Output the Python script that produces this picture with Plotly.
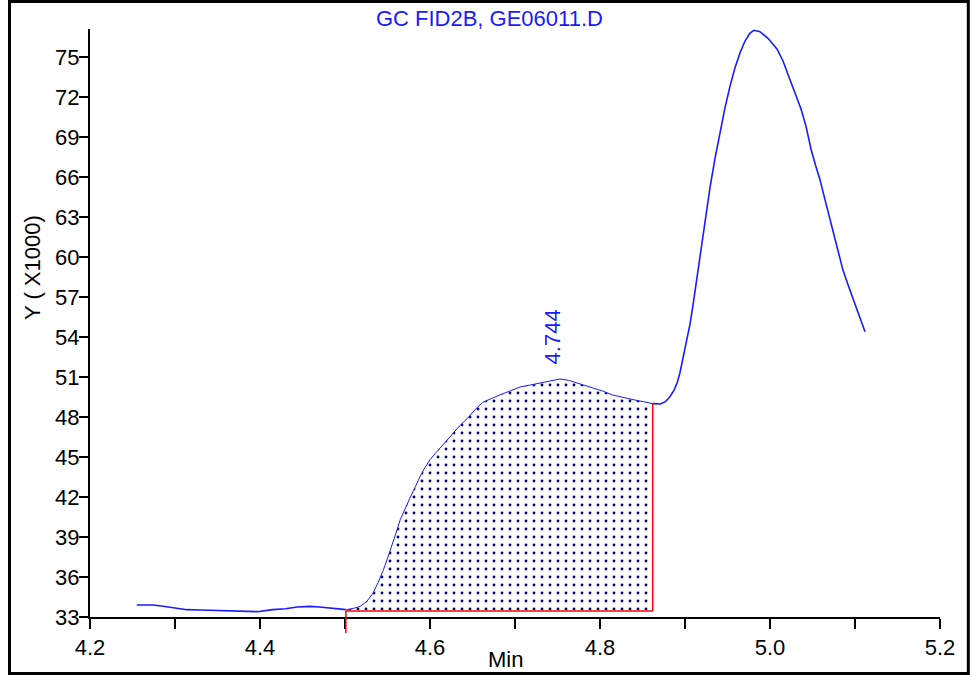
import numpy as np
import plotly.graph_objects as go

# ---- data ----
time_min = [4.255, 4.274, 4.286, 4.300, 4.314, 4.330, 4.345, 4.370, 4.385, 4.397,
            4.415, 4.430, 4.444, 4.459, 4.470, 4.482, 4.492, 4.502, 4.510, 4.518,
            4.526, 4.533, 4.539, 4.545, 4.550, 4.555, 4.560, 4.565, 4.571, 4.577,
            4.583, 4.588, 4.594, 4.600, 4.606, 4.612, 4.620, 4.627, 4.635, 4.644,
            4.653, 4.662, 4.672, 4.682, 4.694, 4.706, 4.718, 4.729, 4.741, 4.753,
            4.763, 4.773, 4.782, 4.792, 4.803, 4.815, 4.827, 4.839, 4.851, 4.862,
            4.871, 4.877, 4.882, 4.887, 4.891, 4.894, 4.898, 4.902, 4.906, 4.909,
            4.912, 4.9176, 4.9235, 4.9294, 4.9353, 4.9412, 4.9471, 4.9529, 4.9588, 4.9647,
            4.9706, 4.9765, 4.9812, 4.9882, 4.9976, 5.0082, 5.0153, 5.0235, 5.0294, 5.0365,
            5.0424, 5.0482, 5.0535, 5.0588, 5.0647, 5.0729, 5.0788, 5.0859, 5.0941, 5.1024,
            5.1118]
signal_k = [33.90, 33.90, 33.80, 33.65, 33.55, 33.52, 33.50, 33.48, 33.45, 33.40,
            33.55, 33.62, 33.75, 33.80, 33.75, 33.67, 33.60, 33.55, 33.65, 33.80,
            34.20, 34.80, 35.60, 36.50, 37.40, 38.30, 39.30, 40.30, 41.20, 42.00,
            42.80, 43.50, 44.20, 44.80, 45.25, 45.70, 46.25, 46.80, 47.35, 47.90,
            48.55, 49.10, 49.40, 49.65, 49.95, 50.25, 50.40, 50.55, 50.70, 50.85,
            50.75, 50.55, 50.40, 50.20, 49.95, 49.65, 49.45, 49.30, 49.15, 49.00,
            48.98, 49.15, 49.50, 50.00, 50.60, 51.30, 52.50, 53.70, 55.00, 56.20,
            57.50, 60.30, 62.80, 65.20, 67.40, 69.40, 71.20, 72.80, 74.20, 75.30,
            76.20, 76.80, 77.00, 76.90, 76.40, 75.60, 74.70, 73.30, 72.30, 71.10,
            69.80, 68.10, 66.90, 65.80, 64.30, 62.20, 60.70, 59.00, 57.50, 56.00,
            54.40]

peak_label = "4.744"
peak_rt = 4.744
integ_start = 4.501
integ_end = 4.862
integ_base = 33.45

x_tickvals = [4.2, 4.3, 4.4, 4.5, 4.6, 4.7, 4.8, 4.9, 5.0, 5.1, 5.2]
x_ticktext = ["4.2", "", "4.4", "", "4.6", "", "4.8", "", "5.0", "", "5.2"]
y_tickvals = [33, 36, 39, 42, 45, 48, 51, 54, 57, 60, 63, 66, 69, 72, 75]
y_ticktext = [str(v) for v in y_tickvals]

title_text = "GC FID2B, GE06011.D"
x_title = "Min"
y_title = "Y ( X1000)"

# ---- styling / layout ----
W, H = 971, 675
ML, MR, MT, MB = 90, 31, 29, 58
X_RANGE = [4.2, 5.2]
Y_RANGE = [33, 77.1]
FONT = "Liberation Sans, Arial, sans-serif"
FS = 22
BLUE = "#1a1aff"
NAVY = "#000080"
RED = "#ff0000"

t = np.array(time_min)
s = np.array(signal_k)

s_start = float(np.interp(integ_start, t, s))
s_end = float(np.interp(integ_end, t, s))
left = t <= integ_start
right = t >= integ_end
inner = (t > integ_start) & (t < integ_end)

x_outer = list(t[left]) + [integ_start, None, integ_end] + list(t[right])
y_outer = list(s[left]) + [s_start, None, s_end] + list(s[right])
x_inner = [integ_start] + list(t[inner]) + [integ_end]
y_inner = [s_start] + list(s[inner]) + [s_end]

x_fill = x_inner + [integ_end, integ_start, integ_start]
y_fill = y_inner + [integ_base, integ_base, s_start]

fig = go.Figure()
fig.add_trace(go.Scatter(
    x=x_fill, y=y_fill, mode="lines", fill="toself",
    line=dict(width=0, color=BLUE),
    fillcolor="rgba(255,255,255,0)",
    fillpattern=dict(shape=".", fgcolor=NAVY, bgcolor="rgba(255,255,255,0)",
                     size=8, solidity=0.1, fillmode="replace"),
    hoverinfo="skip", showlegend=False))
fig.add_trace(go.Scatter(x=x_inner, y=y_inner, mode="lines",
                         line=dict(color=BLUE, width=1), showlegend=False))
fig.add_trace(go.Scatter(x=x_outer, y=y_outer, mode="lines",
                         line=dict(color=BLUE, width=1.6), showlegend=False,
                         connectgaps=False))

plot_h = H - MT - MB
plot_w = W - ML - MR


def paper_y_of_value(v):
    return (v - Y_RANGE[0]) / (Y_RANGE[1] - Y_RANGE[0])


def paper_y_of_px(py):
    return (H - MB - py) / plot_h


def paper_x_of_px(px):
    return (px - ML) / plot_w


# integration markers (red)
fig.add_shape(type="line", xref="x", yref="y", x0=integ_start, x1=integ_end,
              y0=integ_base, y1=integ_base, line=dict(color=RED, width=1.5))
fig.add_shape(type="line", xref="x", yref="y", x0=integ_end, x1=integ_end,
              y0=integ_base, y1=s_end, line=dict(color=RED, width=1.5))
fig.add_shape(type="line", xref="x", yref="paper", x0=integ_start, x1=integ_start,
              y0=paper_y_of_value(integ_base), y1=paper_y_of_px(H - MB + 16),
              line=dict(color=RED, width=1.5))

# outer border
fig.add_shape(type="rect", xref="paper", yref="paper",
              x0=paper_x_of_px(9.5), x1=paper_x_of_px(968.3),
              y0=paper_y_of_px(673.5), y1=paper_y_of_px(1.5),
              line=dict(color="black", width=3), fillcolor="rgba(0,0,0,0)")

# peak label
apex = float(np.interp(peak_rt, t, s))
fig.add_annotation(x=peak_rt, y=apex, xref="x", yref="y", text=peak_label,
                   textangle=-90, showarrow=False, yanchor="bottom", xanchor="center",
                   yshift=14, font=dict(family=FONT, size=FS, color=BLUE))

# axis titles (placed as annotations to match the reference positions)
fig.add_annotation(x=paper_x_of_px(32), y=paper_y_of_px(268), xref="paper", yref="paper",
                   text=y_title, textangle=-90, showarrow=False,
                   xanchor="center", yanchor="middle",
                   font=dict(family=FONT, size=FS, color="black"))
fig.add_annotation(x=paper_x_of_px(505), y=paper_y_of_px(645), xref="paper", yref="paper",
                   text=x_title, showarrow=False, xanchor="center", yanchor="top",
                   font=dict(family=FONT, size=FS, color="black"))

fig.update_layout(
    template="none",
    width=W, height=H,
    margin=dict(l=ML, r=MR, t=MT, b=MB, autoexpand=False),
    paper_bgcolor="white", plot_bgcolor="white",
    showlegend=False,
    font=dict(family=FONT, size=FS, color="black"),
    title=dict(text=title_text, x=0.504, xref="container", xanchor="center",
               y=1 - 18 / H, yref="container", yanchor="middle",
               font=dict(family=FONT, size=FS, color=BLUE)),
)
fig.update_xaxes(range=X_RANGE, tickvals=x_tickvals, ticktext=x_ticktext,
                 showline=True, linecolor="black", linewidth=2,
                 ticks="outside", ticklen=10, tickwidth=2, tickcolor="black",
                 showgrid=False, zeroline=False, automargin=False)
fig.update_yaxes(range=Y_RANGE, tickvals=y_tickvals, ticktext=y_ticktext,
                 showline=True, linecolor="black", linewidth=2,
                 ticks="outside", ticklen=9, tickwidth=2, tickcolor="black",
                 ticklabelstandoff=-5,
                 showgrid=False, zeroline=False, automargin=False)

fig.write_html("out.html",
               config={"displayModeBar": False},
               post_script="document.body.style.margin='0';"
                           "document.body.style.overflow='hidden';")
